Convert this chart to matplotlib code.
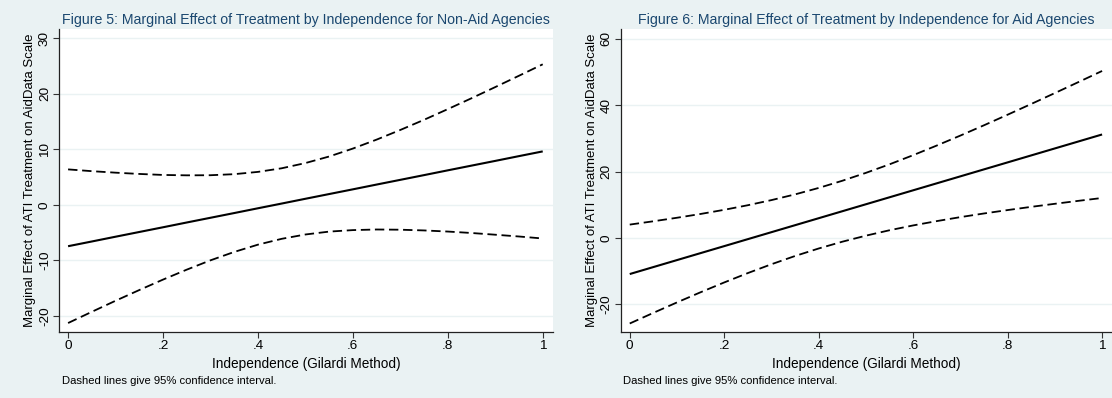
import numpy as np
import matplotlib
matplotlib.use("Agg")
import matplotlib.pyplot as plt

plt.rcParams['font.family'] = ['Liberation Sans', 'DejaVu Sans']

# values (x = independence, 0..1 step .05)
indep = [0.00, 0.05, 0.10, 0.15, 0.20, 0.25, 0.30, 0.35, 0.40, 0.45, 0.50,
         0.55, 0.60, 0.65, 0.70, 0.75, 0.80, 0.85, 0.90, 0.95, 1.00]

# Figure 5 - non-aid agencies
nonaid_me = [-7.45, -6.60, -5.74, -4.89, -4.04, -3.18, -2.33, -1.48, -0.62, 0.23, 1.09,
             1.94, 2.79, 3.65, 4.50, 5.35, 6.21, 7.06, 7.91, 8.77, 9.62]
nonaid_hi = [6.38, 6.06, 5.79, 5.56, 5.38, 5.31, 5.33, 5.52, 5.93, 6.58, 7.52,
             8.70, 10.13, 11.74, 13.48, 15.31, 17.23, 19.19, 21.20, 23.24, 25.30]
nonaid_lo = [-21.28, -19.26, -17.27, -15.34, -13.46, -11.67, -9.99, -8.48, -7.17, -6.12, -5.34,
             -4.82, -4.55, -4.44, -4.48, -4.61, -4.81, -5.07, -5.38, -5.70, -6.06]

# Figure 6 - aid agencies
aid_me = [-10.85, -8.75, -6.65, -4.55, -2.45, -0.35, 1.75, 3.85, 5.95, 8.05, 10.15,
          12.25, 14.35, 16.45, 18.55, 20.65, 22.75, 24.85, 26.95, 29.05, 31.15]
aid_hi = [4.03, 5.03, 6.09, 7.23, 8.48, 9.86, 11.40, 13.12, 15.06, 17.22, 19.60,
          22.17, 24.92, 27.82, 30.82, 33.92, 37.10, 40.33, 43.61, 46.92, 50.26]
aid_lo = [-25.73, -22.53, -19.39, -16.33, -13.38, -10.56, -7.90, -5.42, -3.16, -1.12, 0.70,
          2.33, 3.78, 5.08, 6.28, 7.38, 8.40, 9.37, 10.29, 11.18, 12.04]

xticks = [0, 0.2, 0.4, 0.6, 0.8, 1.0]
xticklabels = ['0', '.2', '.4', '.6', '.8', '1']
yticks_5 = [-20, -10, 0, 10, 20, 30]
yticks_6 = [-20, 0, 20, 40, 60]

titles = ['Figure 5: Marginal Effect of Treatment by Independence for Non-Aid Agencies',
          'Figure 6: Marginal Effect of Treatment by Independence for Aid Agencies']
ylab = 'Marginal Effect of ATI Treatment on AidData Scale'
xlab = 'Independence (Gilardi Method)'
note = 'Dashed lines give 95% confidence interval.'

BG = '#EAF2F3'
NAVY = '#1A476F'
W, H = 1112, 398

fig = plt.figure(figsize=(W / 100, H / 100), dpi=100, facecolor=BG)


def box(x0, y0, x1, y1):
    # pixel box (top-left origin) -> figure fraction rect
    return [x0 / W, 1 - y1 / H, (x1 - x0) / W, (y1 - y0) / H]


panels = [
    (box(59.3, 29.3, 552.7, 331.7), (-22.84, 31.6), yticks_5,
     nonaid_me, nonaid_hi, nonaid_lo, titles[0]),
    (box(621, 29.3, 1112, 331.7), (-28.2, 62.8), yticks_6,
     aid_me, aid_hi, aid_lo, titles[1]),
]

for rect, ylim, yt, me, hi, lo, title in panels:
    ax = fig.add_axes(rect)
    ax.set_facecolor('white')
    for y in yt:
        ax.axhline(y, color=BG, lw=1.0, zorder=0)
    ax.plot(indep, me, color='black', lw=1.5, solid_capstyle='butt')
    ax.plot(indep, hi, color='black', lw=1.3, dashes=(5.2, 2.6))
    ax.plot(indep, lo, color='black', lw=1.3, dashes=(5.2, 2.6))
    ax.set_xlim(-0.0185, 1.021)
    ax.set_ylim(*ylim)
    ax.set_xticks(xticks)
    ax.set_xticklabels(xticklabels)
    ax.set_yticks(yt)
    ax.set_yticklabels([str(v) for v in yt], rotation=90, va='center')
    ax.tick_params(length=4, width=0.8, labelsize=9.7, pad=2, color='#333333')
    for s in ['top', 'right']:
        ax.spines[s].set_visible(False)
    for s in ['left', 'bottom']:
        ax.spines[s].set_linewidth(0.9)
        ax.spines[s].set_color('#222222')
    ax.set_xlabel(xlab, fontsize=9.8, labelpad=3.5)
    ax.set_ylabel(ylab, fontsize=9.5, labelpad=2)
    ax.set_title(title, fontsize=10.2, color=NAVY, pad=4)
    ax.text(0.005, -0.148, note, transform=ax.transAxes, fontsize=8.1,
            ha='left', va='top')

fig.savefig('out.png', dpi=100, facecolor=BG)
